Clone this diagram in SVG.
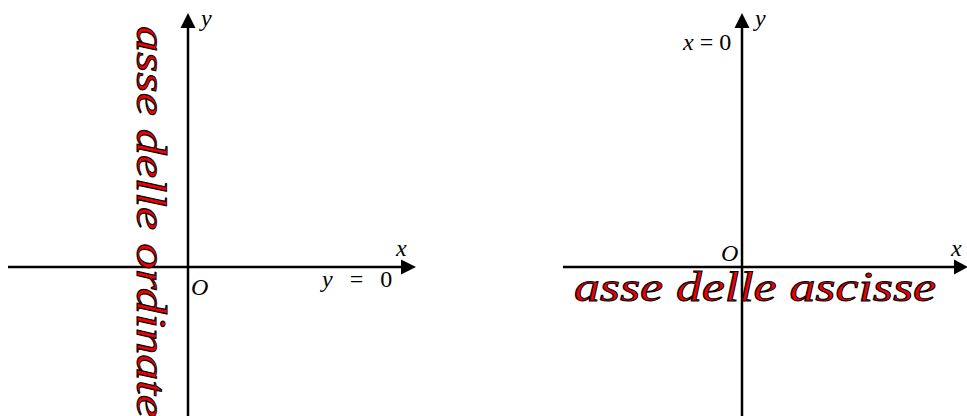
<svg xmlns="http://www.w3.org/2000/svg" width="967" height="416" viewBox="0 0 967 416">
<style>
.ax{stroke:#000;stroke-width:2.5;fill:none}
.ah{fill:#000}
.m{font-family:"Liberation Serif","Times New Roman",serif;font-size:24px;fill:#000}
.i{font-style:italic}
.big{font-family:"Liberation Serif","Times New Roman",serif;font-size:42px;font-style:italic;fill:#f00000;stroke:#000;stroke-width:1}
</style>
<g id="left-axes">
<line class="ax" x1="8" y1="267" x2="404" y2="267"/>
<polygon class="ah" points="416,267 401,259.5 401,274.5"/>
<line class="ax" x1="188" y1="416" x2="188" y2="25"/>
<polygon class="ah" points="188,13 180.5,28 195.5,28"/>
</g>
<g id="left-labels">
<text class="m i" x="201" y="26">y</text>
<text class="m i" x="396" y="256">x</text>
<text class="m i" x="191" y="295">O</text>
<text class="m" x="322" y="287" word-spacing="11"><tspan class="i">y</tspan> = 0</text>
<text class="big" transform="translate(137,26) rotate(90)" textLength="392" lengthAdjust="spacingAndGlyphs">asse delle ordinate</text>
</g>
<g id="right-axes">
<line class="ax" x1="563" y1="267" x2="957" y2="267"/>
<polygon class="ah" points="968,267 954,259.5 954,274.5"/>
<line class="ax" x1="742" y1="416" x2="742" y2="25"/>
<polygon class="ah" points="742,13 734.5,28 749.5,28"/>
</g>
<g id="right-labels">
<text class="m i" x="755" y="26">y</text>
<text class="m i" x="951" y="256">x</text>
<text class="m i" x="721" y="261">O</text>
<text class="m" x="683" y="50"><tspan class="i">x</tspan> = 0</text>
<text class="big" x="574" y="301" textLength="362" lengthAdjust="spacingAndGlyphs">asse delle ascisse</text>
</g>
</svg>
